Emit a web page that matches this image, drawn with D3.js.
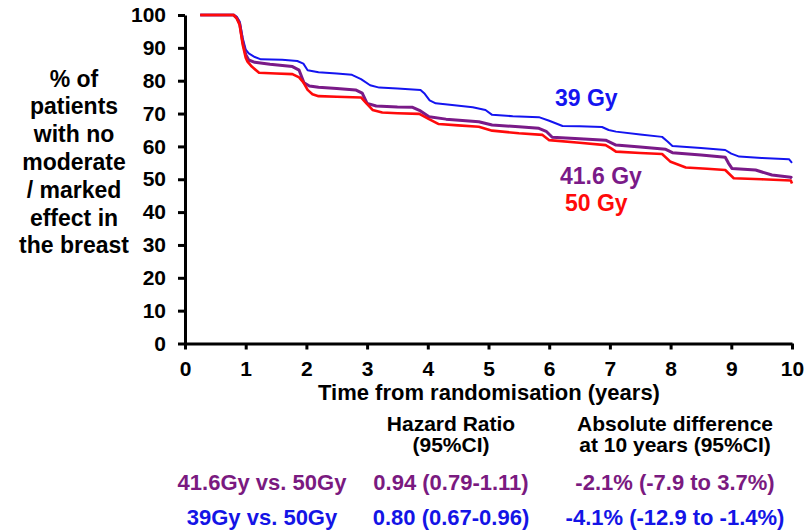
<!DOCTYPE html>
<html>
<head>
<meta charset="utf-8">
<script src="https://cdn.jsdelivr.net/npm/d3@7"></script>
<style>
  html, body { margin: 0; padding: 0; background: #fff; }
  svg { display: block; }
  text { font-family: "Liberation Sans", Arial, sans-serif; font-weight: bold; }
</style>
</head>
<body>
<svg id="chart" width="810" height="531"></svg>
<script>
// Kaplan-Meier style curves: [years from randomisation, % with no moderate/marked effect]
const series39 = [[0.25,100],[0.80,100],[0.85,99.5],[0.90,98],[0.95,93],[1.0,89.5],[1.05,88.3],[1.15,87.2],[1.25,86.5],[1.6,86.4],[1.85,86.0],[1.95,85.2],[2.02,83.2],[2.2,82.6],[2.5,82.2],[2.75,81.8],[2.9,80.5],[3.05,78.6],[3.2,77.9],[3.5,77.6],[3.88,77.2],[3.95,76.0],[4.03,74.0],[4.13,73.1],[4.4,72.6],[4.74,71.9],[4.95,71.1],[5.06,69.6],[5.4,69.2],[5.83,68.9],[6.0,67.8],[6.22,66.2],[6.5,66.1],[6.87,65.9],[6.98,65.0],[7.1,64.5],[7.5,63.6],[7.86,62.9],[7.95,61.5],[8.03,60.1],[8.5,59.5],[8.9,58.9],[9.0,57.8],[9.13,56.9],[9.5,56.5],[9.95,56.1],[10.0,55.0]];
const series416 = [[0.25,100],[0.80,100],[0.85,99.2],[0.90,97.5],[0.95,92],[1.0,88],[1.05,86.3],[1.15,85.6],[1.4,85.0],[1.77,84.3],[1.88,83.2],[1.96,79.4],[2.05,78.4],[2.2,78.0],[2.5,77.6],[2.81,77.2],[2.92,76.2],[3.0,73.1],[3.15,72.3],[3.5,72.0],[3.75,71.9],[3.88,70.8],[4.02,69.0],[4.3,68.3],[4.84,67.5],[5.06,66.5],[5.5,66.0],[5.83,65.5],[5.95,64.6],[6.05,62.8],[6.5,62.3],[6.93,61.9],[7.1,60.4],[7.5,59.8],[7.92,59.1],[8.03,58.1],[8.5,57.4],[8.9,56.7],[8.95,55.0],[9.01,53.3],[9.4,52.8],[9.67,51.3],[9.98,50.6],[10.0,50.3]];
const series50 = [[0.25,100],[0.80,100],[0.85,99],[0.90,97],[0.95,91],[1.0,87],[1.03,85.8],[1.1,84.3],[1.22,82.4],[1.5,82.2],[1.77,82.0],[1.88,81.0],[1.95,79.5],[2.02,77.2],[2.1,75.9],[2.2,75.3],[2.5,75.1],[2.9,74.9],[2.97,73.5],[3.09,71.1],[3.25,70.3],[3.5,70.1],[3.86,69.9],[4.02,68.3],[4.18,66.8],[4.5,66.4],[4.84,66.0],[5.06,64.8],[5.5,64.0],[5.89,63.5],[6.0,61.9],[6.5,61.1],[6.93,60.4],[7.02,59.4],[7.1,58.4],[7.5,58.0],[7.86,57.7],[8.0,55.3],[8.25,53.6],[8.6,53.2],[8.9,52.8],[9.04,50.3],[9.5,50.0],[9.98,49.6],[10.0,48.7]];

const seriesNames = ["39 Gy", "41.6 Gy", "50 Gy"];
const seriesColors = ["#1414f0", "#7a1a88", "#ff0a0a"];

const xTicks = [0,1,2,3,4,5,6,7,8,9,10];
const yTicks = [0,10,20,30,40,50,60,70,80,90,100];

const yLabelLines = ["% of", "patients", "with no", "moderate", "/ marked", "effect in", "the breast"];
const xTitle = "Time from randomisation (years)";

const tableHeaders = [["Hazard Ratio", "(95%CI)"], ["Absolute difference", "at 10 years (95%CI)"]];
const tableRows = ["41.6Gy vs. 50Gy", "39Gy vs. 50Gy"];
const hazardRatios = ["0.94 (0.79-1.11)", "0.80 (0.67-0.96)"];
const absDifferences = ["-2.1% (-7.9 to 3.7%)", "-4.1% (-12.9 to -1.4%)"];
const rowColors = ["#7a1a80", "#1414e6"];

const svg = d3.select("#chart");

const x = d3.scaleLinear().domain([0, 10]).range([185, 792]);
const y = d3.scaleLinear().domain([0, 100]).range([343.5, 15]);

// Axes
const yAxis = svg.append("g")
  .attr("transform", `translate(${x(0)},0)`)
  .call(d3.axisLeft(y).tickValues(yTicks).tickSize(7).tickSizeOuter(0).tickPadding(12));
const xAxis = svg.append("g")
  .attr("transform", `translate(0,${y(0)})`)
  .call(d3.axisBottom(x).tickValues(xTicks).tickSize(6).tickSizeOuter(0).tickPadding(12));

[yAxis, xAxis].forEach(g => {
  g.select(".domain").attr("stroke", "#000").attr("stroke-width", 3);
  g.selectAll(".tick line").attr("stroke", "#000").attr("stroke-width", 3);
  g.selectAll(".tick text")
    .attr("fill", "#000")
    .style("font-family", '"Liberation Sans", Arial, sans-serif')
    .style("font-weight", "bold")
    .style("font-size", "21px");
});

// Curves
const line = d3.line().x(d => x(d[0])).y(d => y(d[1]));
const curves = [
  { data: series39, color: seriesColors[0], width: 2 },
  { data: series416, color: seriesColors[1], width: 3 },
  { data: series50, color: seriesColors[2], width: 2.6 }
];
svg.append("g").selectAll("path")
  .data(curves)
  .join("path")
  .attr("d", d => line(d.data))
  .attr("fill", "none")
  .attr("stroke", d => d.color)
  .attr("stroke-width", d => d.width)
  .attr("stroke-linejoin", "round");

// Series labels
const seriesLabelPos = [[555, 106], [560, 184], [565, 211]];
svg.append("g").selectAll("text")
  .data(seriesNames)
  .join("text")
  .attr("x", (d, i) => seriesLabelPos[i][0])
  .attr("y", (d, i) => seriesLabelPos[i][1])
  .attr("fill", (d, i) => seriesColors[i])
  .style("font-size", "23px")
  .text(d => d);

// Y-axis title
svg.append("g").selectAll("text")
  .data(yLabelLines)
  .join("text")
  .attr("x", 74)
  .attr("y", (d, i) => 86.5 + i * 27.8)
  .attr("text-anchor", "middle")
  .attr("fill", "#000")
  .style("font-size", "23px")
  .text(d => d);

// X-axis title
svg.append("text")
  .attr("x", 489)
  .attr("y", 400)
  .attr("text-anchor", "middle")
  .attr("fill", "#000")
  .style("font-size", "22px")
  .text(xTitle);

// Results table
const colX = [451, 675];
tableHeaders.forEach((lines, c) => {
  lines.forEach((t, r) => {
    svg.append("text")
      .attr("x", colX[c])
      .attr("y", 431 + r * 21)
      .attr("text-anchor", "middle")
      .attr("fill", "#000")
      .style("font-size", "21px")
      .text(t);
  });
});
tableRows.forEach((label, r) => {
  const yy = 490 + r * 35;
  [[262, label], [colX[0], hazardRatios[r]], [colX[1], absDifferences[r]]].forEach(([cx, t]) => {
    svg.append("text")
      .attr("x", cx)
      .attr("y", yy)
      .attr("text-anchor", "middle")
      .attr("fill", rowColors[r])
      .style("font-size", "22px")
      .text(t);
  });
});
</script>
</body>
</html>
